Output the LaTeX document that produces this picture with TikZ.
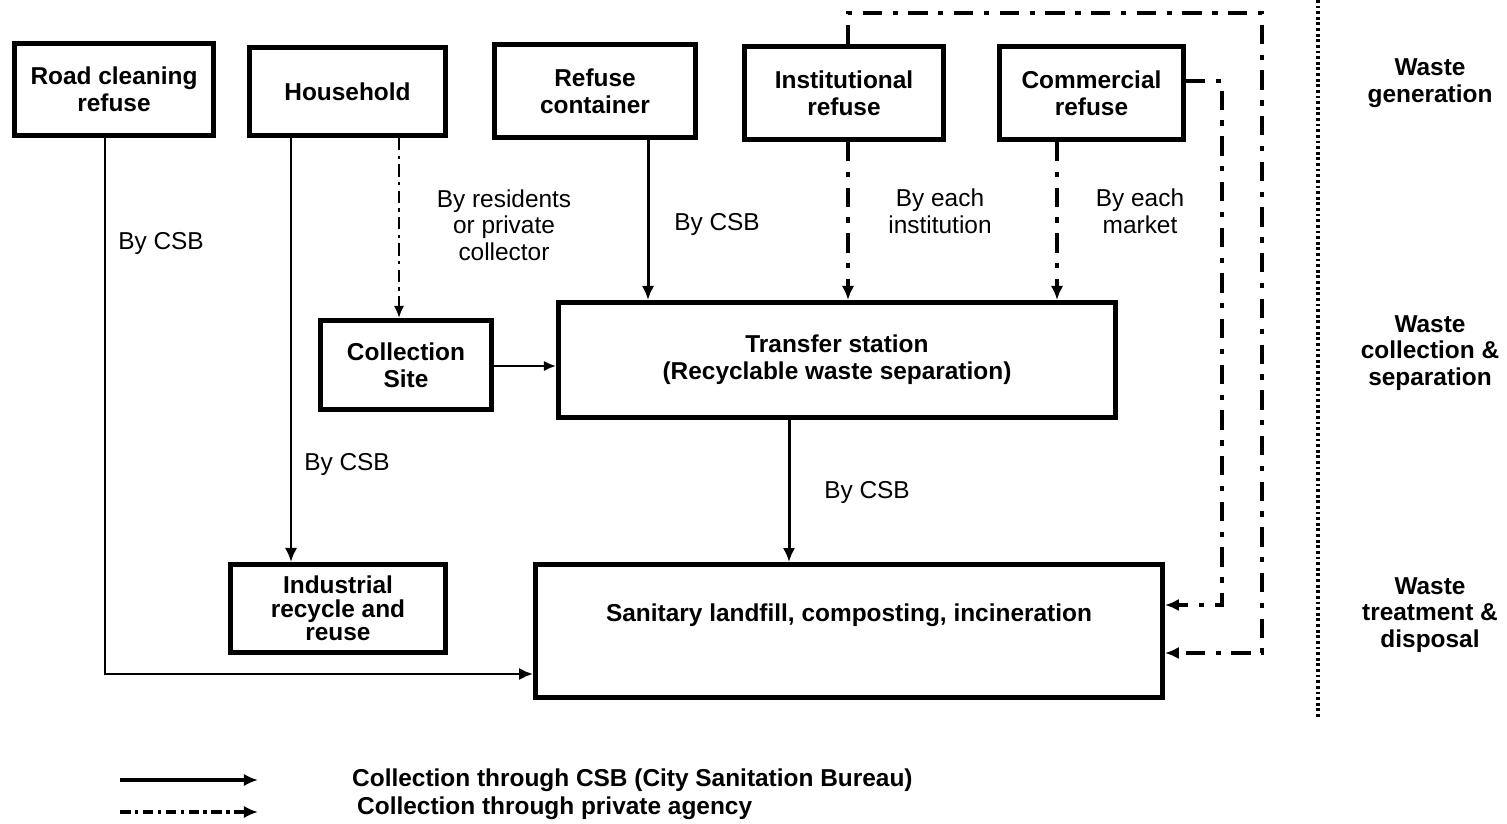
\documentclass[tikz,border=0pt]{standalone}
\usepackage{fontspec}
\setmainfont{Liberation Sans}
\usetikzlibrary{arrows.meta}
\newcommand{\txt}{\fontsize{13.9}{15.2}\selectfont}

\begin{document}
\begin{tikzpicture}[x=0.02cm,y=-0.02cm,
		box/.style={draw,line width=2.8pt,align=center,font=\txt\bfseries,inner sep=0pt},
		lbl/.style={align=center,font=\txt},
		stage/.style={align=center,font=\txt\bfseries},
		csb/.style={line width=1.7pt,-{Latex[length=8pt,width=7pt]}},
		priv/.style={line width=2.6pt,dash pattern=on 11pt off 6pt on 3pt off 6pt,-{Latex[length=8pt,width=7pt]}},
		privthin/.style={line width=1.4pt,dash pattern=on 7pt off 3pt on 2pt off 3pt,-{Latex[length=7pt,width=6pt]}}]
		\useasboundingbox (0,0) rectangle (1507,824);
		
		% sources
		\node [box,minimum width=3.98cm,minimum height=1.84cm] (road) at (114,89.5) {Road cleaning\\refuse};
		\node [box,minimum width=3.92cm,minimum height=1.76cm] (house) at (347.5,91.5) {Household};
		\node [box,minimum width=4.02cm,minimum height=1.86cm] (cont) at (595,91) {Refuse\\container};
		\node [box,minimum width=3.98cm,minimum height=1.86cm] (inst) at (844,93) {Institutional\\refuse};
		\node [box,minimum width=3.68cm,minimum height=1.86cm] (comm) at (1091.5,93) {Commercial\\refuse};
		
		% collection
		\node [box,minimum width=3.42cm,minimum height=1.78cm] (site) at (406,365) {Collection\\Site};
		\node [box,minimum width=11.14cm,minimum height=2.3cm] (trans) at (837,360) {Transfer station\\(Recyclable waste separation)};
		
		% treatment
		\node [box,minimum width=4.3cm,minimum height=1.76cm,font=\fontsize{13.9}{13.5}\selectfont\bfseries] (indus) at (338,608.5) {Industrial\\recycle and\\reuse};
		\node [box,minimum width=12.54cm,minimum height=2.66cm] (sanit) at (849,631) {};
		\node [stage] at (849,615) {Sanitary landfill, composting, incineration};
		
		\coordinate (rc) at (105,674);
		\coordinate (hh) at (291,0);
		\coordinate (hd) at (399,0);
		\coordinate (cc) at (648,0);
		\coordinate (ic) at (848,0);
		\coordinate (mc) at (1057,0);
		\coordinate (tc) at (789,0);
		\coordinate (sc) at (0,366);
		\coordinate (cm1) at (1222,81);
		\coordinate (cm2) at (1222,605);
		\coordinate (it1) at (848,13);
		\coordinate (it2) at (1262,13);
		\coordinate (it3) at (1262,653);
		
		\draw [csb] (road.south -| rc) -- (rc) -- (sanit.west |- rc);
		\draw [csb] (house.south -| hh) -- (indus.north -| hh);
		\draw [privthin] (house.south -| hd) -- (site.north -| hd);
		\draw [line width=1.4pt,-{Latex[length=7pt,width=6pt]}] (site.east |- sc) -- (trans.west |- sc);
		\draw [csb] (cont.south -| cc) -- (trans.north -| cc);
		\draw [priv] (inst.south -| ic) -- (trans.north -| ic);
		\draw [priv] (comm.south -| mc) -- (trans.north -| mc);
		\draw [csb] (trans.south -| tc) -- (sanit.north -| tc);
		\draw [priv] (comm.east |- cm1) -- (cm1) -- (cm2) -- (sanit.east |- cm2);
		\draw [priv] (inst.north -| it1) -- (it1) -- (it2) -- (it3) -- (sanit.east |- it3);
		
		\node [lbl] (l1) at (161,244) {By CSB};
		\node [lbl] (l2) at (347,465) {By CSB};
		\node [lbl] (l3) at (504,225) {By residents\\or private\\collector};
		\node [lbl] (l4) at (717,225) {By CSB};
		\node [lbl] (l5) at (940,211) {By each\\institution};
		\node [lbl] (l6) at (1140,211) {By each\\market};
		\node [lbl] (l7) at (867,493) {By CSB};
		
		% stages
		\draw [line width=2.2pt,dash pattern=on 1.6pt off 1.6pt] (1318,0) -- (1318,718);
		\node [stage] (g1) at (1430,83) {Waste\\generation};
		\node [stage] (g2) at (1430,353) {Waste\\collection \&\\separation};
		\node [stage] (g3) at (1430,615) {Waste\\treatment \&\\disposal};
		
		% legend
		\coordinate (a1) at (120,780);
		\coordinate (a2) at (258,780);
		\coordinate (b1) at (120,812);
		\coordinate (b2) at (258,812);
		\draw [line width=2.6pt,-{Latex[length=8pt,width=7pt]}] (a1) -- (a2);
		\draw [line width=2.8pt,dash pattern=on 6pt off 2.5pt on 2pt off 2.5pt,-{Latex[length=8pt,width=7pt]}] (b1) -- (b2);
		\node [stage,anchor=west] (k1) at (346,780) {Collection through CSB (City Sanitation Bureau)};
		\node [stage,anchor=west] (k2) at (351,808) {Collection through private agency};
	\end{tikzpicture}
\end{document}
